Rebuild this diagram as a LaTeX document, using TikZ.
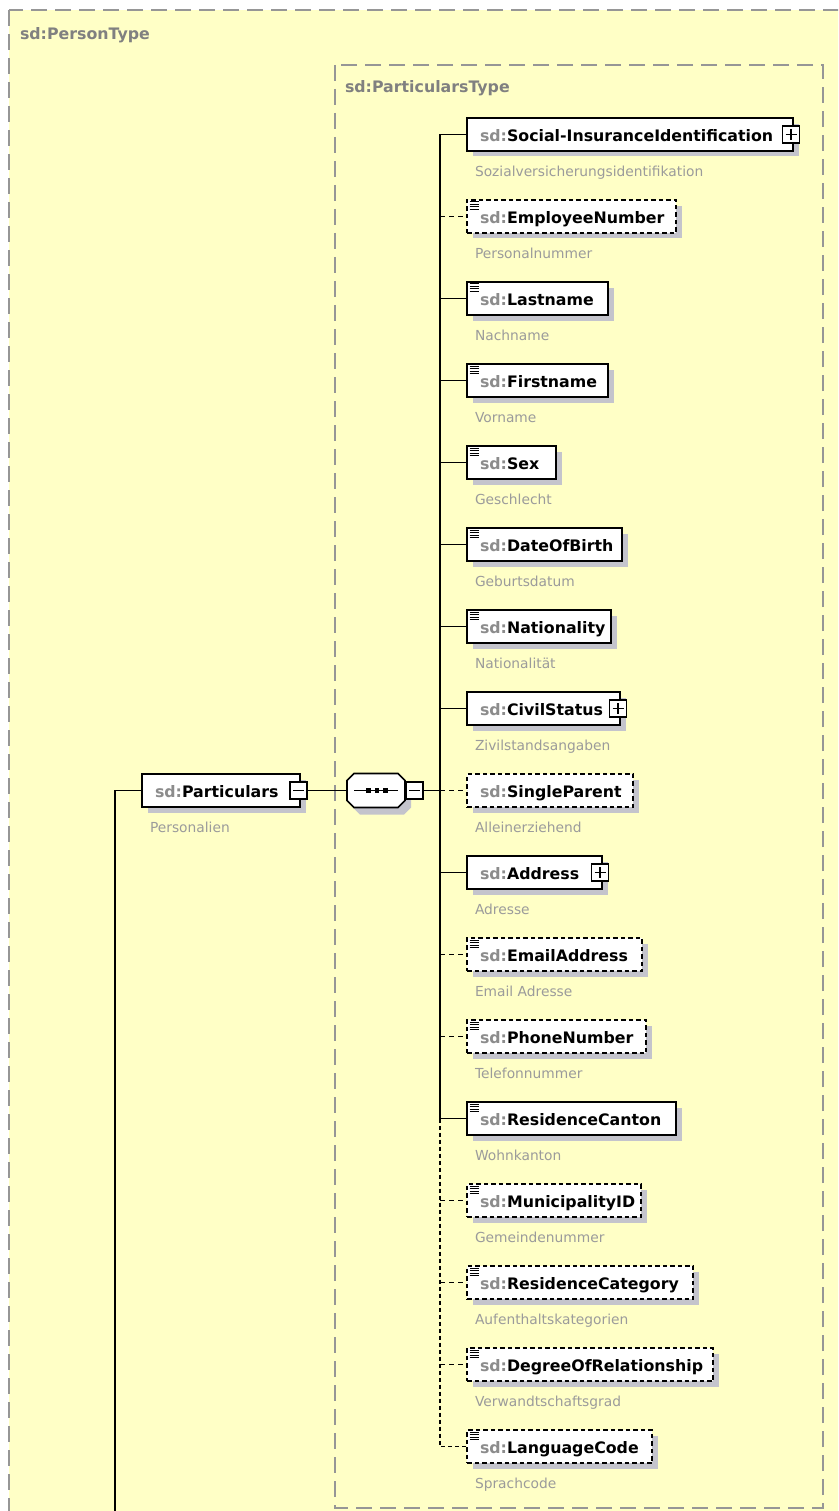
\documentclass[tikz,border=0pt]{standalone}
\usepackage{fontspec}
\setmainfont{DejaVu Sans}
\definecolor{paper}{RGB}{255,255,198}
\definecolor{framegray}{RGB}{150,150,150}
\definecolor{labelgray}{RGB}{128,128,128}
\definecolor{prefixgray}{RGB}{140,140,140}
\definecolor{notegray}{RGB}{155,155,155}
\definecolor{shadowgray}{RGB}{196,196,204}
\newcommand\elemfont{\fontsize{15.8}{18}\selectfont\bfseries}
\newcommand\notefont{\fontsize{13.8}{16}\selectfont}
\newcommand\pfx{\textcolor{prefixgray}{sd:}}
% one element box: name, left x, centre y, right x, style, local name, annotation
\newcommand\element[7]{%
  \pgfmathsetmacro\elw{#4-#2}%
  \pgfmathsetmacro\elt{#4-#2-26}%
  \fill[shade box] (#2+6,#3-10.5) rectangle (#4+6,#3+22);
  \node[#5, minimum width=\elw pt, text width=\elt pt] (#1) at (#2,#3) {\pfx#6};
  \node[note] (#1-note) at (#2+8,#3+42) {#7};
}
% the "simple content" mark in the upper left corner of a box
\newcommand\simplemark[1]{%
  \foreach \k in {2,4.5,7,9.5}
    \draw[line width=1pt] ([xshift=2.5pt,yshift=-\k pt]#1.north west) -- ++(9.5,0);
}
% expand / collapse buttons
\newcommand\plusbox[2]{%
  \node[expander] (#1) at ([xshift=-2pt]#2.east) {};
  \draw[line width=1.2pt] (#1.center) ++(-5.5,0) -- ++(11,0);
  \draw[line width=1.2pt] (#1.center) ++(0,-5.5) -- ++(0,11);
}
\newcommand\minusbox[2]{%
  \node[expander] (#1) at (#2) {};
  \draw[line width=1.2pt] (#1.center) ++(-5.5,0) -- ++(11,0);
}
\begin{document}
\begin{tikzpicture}[x=1pt,y=-1pt,
  every node/.style={inner sep=0pt, outer sep=0pt},
  typebox/.style={draw=framegray, line width=1.3pt, dash pattern=on 16pt off 8pt, fill=paper},
  typelabel/.style={anchor=base west, text=labelgray, font=\elemfont},
  elembox/.style={draw=black, line width=1.6pt, fill=white, anchor=west,
    minimum height=33pt, inner xsep=13pt, inner ysep=0pt,
    text height=14.5pt, text depth=0pt, align=left, font=\elemfont},
  reqbox/.style={elembox},
  optbox/.style={elembox, dash pattern=on 4.5pt off 3pt},
  note/.style={anchor=base west, text=notegray, font=\notefont},
  shade box/.style={fill=shadowgray},
  wire/.style={line width=1.6pt, draw=black},
  optwire/.style={wire, dash pattern=on 5pt off 4pt},
  spinewire/.style={wire, dash pattern=on 4pt off 3pt},
  expander/.style={draw=black, line width=1.2pt, fill=white, minimum size=17pt}]
\useasboundingbox (0,0) rectangle (838,1511);
\clip (0,0) rectangle (838,1511);
\fill[white] (0,0) rectangle (838,1511);

% complex types
\path[typebox] (9,10) rectangle (860,1530);
\node[typelabel] (persontype) at (20,39.5) {sd:PersonType};
\path[typebox] (335,65) rectangle (823,1508);
\node[typelabel] (particularstype) at (345,93) {sd:ParticularsType};

% the Particulars element
\element{particulars}{142}{790.5}{300}{reqbox}{Particulars}{Personalien}
\minusbox{partm}{298.5,790.5}

% sequence compositor
\node[minimum width=58pt, minimum height=34pt] (seq) at (376,790.5) {};
\fill[shade box] (360,780.5) -- (404,780.5) -- (411,787.5) -- (411,807.5) -- (404,814.5)
  -- (360,814.5) -- (353,807.5) -- (353,787.5) -- cycle;
\draw[wire, fill=white] (354,773.5) -- (398,773.5) -- (405,780.5) -- (405,800.5) -- (398,807.5)
  -- (354,807.5) -- (347,800.5) -- (347,780.5) -- cycle;
\draw[wire] (354,790.5) -- (398,790.5);
\foreach \dx in {368.5,377,385.5}
  \fill (\dx-2.2,788.3) rectangle (\dx+2.2,792.7);
\minusbox{seqm}{414.5,790.5}

% children of the sequence
\element{social}{467}{134.5}{793}{reqbox}{Social-InsuranceIdentification}{Sozialversicherungsidentifikation}
\plusbox{socialp}{social}
\element{employee}{467}{216.5}{676}{optbox}{EmployeeNumber}{Personalnummer}
\simplemark{employee}
\element{lastname}{467}{298.5}{608}{reqbox}{Lastname}{Nachname}
\simplemark{lastname}
\element{firstname}{467}{380.5}{608}{reqbox}{Firstname}{Vorname}
\simplemark{firstname}
\element{sex}{467}{462.5}{556}{reqbox}{Sex}{Geschlecht}
\simplemark{sex}
\element{birth}{467}{544.5}{622}{reqbox}{DateOfBirth}{Geburtsdatum}
\simplemark{birth}
\element{nationality}{467}{626.5}{611}{reqbox}{Nationality}{Nationalität}
\simplemark{nationality}
\element{civil}{467}{708.5}{620}{reqbox}{CivilStatus}{Zivilstandsangaben}
\plusbox{civilp}{civil}
\element{single}{467}{790.5}{633}{optbox}{SingleParent}{Alleinerziehend}
\element{address}{467}{872.5}{602}{reqbox}{Address}{Adresse}
\plusbox{addressp}{address}
\element{email}{467}{954.5}{642}{optbox}{EmailAddress}{Email Adresse}
\simplemark{email}
\element{phone}{467}{1036.5}{646}{optbox}{PhoneNumber}{Telefonnummer}
\simplemark{phone}
\element{canton}{467}{1118.5}{676}{reqbox}{ResidenceCanton}{Wohnkanton}
\simplemark{canton}
\element{municipality}{467}{1200.5}{641}{optbox}{MunicipalityID}{Gemeindenummer}
\simplemark{municipality}
\element{category}{467}{1282.5}{693}{optbox}{ResidenceCategory}{Aufenthaltskategorien}
\simplemark{category}
\element{degree}{467}{1364.5}{713}{optbox}{DegreeOfRelationship}{Verwandtschaftsgrad}
\simplemark{degree}
\element{language}{467}{1446.5}{652}{optbox}{LanguageCode}{Sprachcode}
\simplemark{language}

% connectors
\coordinate (spine) at (440,0);
\coordinate (rootline) at (115,1530);
\draw[wire] (particulars.west) -| (rootline);
\draw[wire] (partm.east) -- (seq.west);
\draw[wire] (seqm.east) -- (seqm.east -| spine);
\draw[wire] (social.west) -- (spine |- social.west) -- (spine |- canton.west);
\draw[spinewire] (spine |- canton.west) -- (spine |- language.west) -- (language.west);
\foreach \n in {lastname,firstname,sex,birth,nationality,civil,address,canton}
  \draw[wire] (spine |- \n.west) -- (\n.west);
\foreach \n in {employee,single,email,phone,municipality,category,degree}
  \draw[optwire] (spine |- \n.west) -- (\n.west);
\end{tikzpicture}
\end{document}
